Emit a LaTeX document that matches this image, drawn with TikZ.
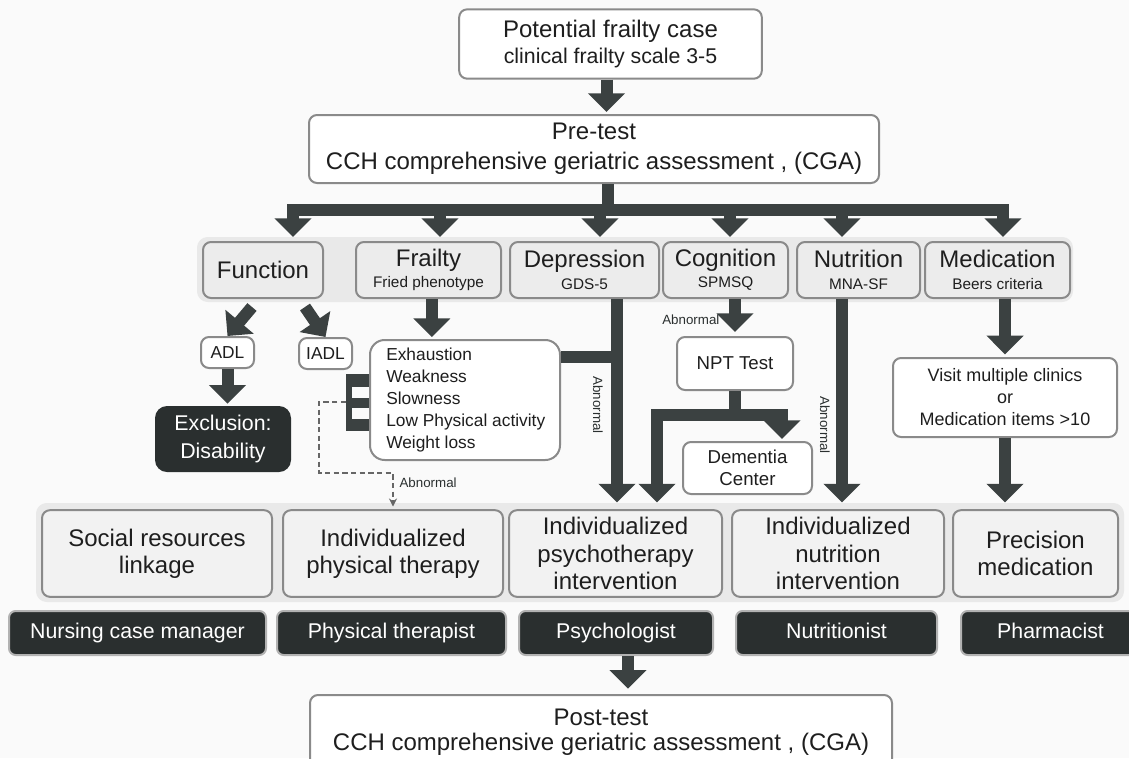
\documentclass[tikz,border=0pt]{standalone}
\usepackage{fontspec}
\setmainfont{Liberation Sans}
\usetikzlibrary{arrows.meta}
\definecolor{arrowc}{HTML}{3B4141}
\definecolor{darkc}{HTML}{2A2F2F}
\definecolor{edgec}{HTML}{8A8A8A}
\definecolor{bandc}{HTML}{E9E9E9}
\definecolor{catfill}{HTML}{ECECEC}
\definecolor{intfill}{HTML}{F2F2F2}
\definecolor{bgc}{HTML}{FAFAFA}
\definecolor{textc}{HTML}{1E1E1E}

\begin{document}
\begin{tikzpicture}[x=0.75pt,y=-0.75pt,
		every node/.style={text=textc},
		box/.style={draw=edgec, line width=1.5pt, rounded corners=6pt, align=center, inner sep=0pt},
		whitebox/.style={box, fill=white},
		catbox/.style={box, fill=catfill, minimum height=42pt, font=\fontsize{18}{16}\selectfont},
		intbox/.style={box, fill=intfill, minimum height=65pt, font=\fontsize{18}{20.5}\selectfont},
		rolebox/.style={draw=gray!60, line width=1.5pt, fill=darkc, text=white, rounded corners=5pt, minimum height=33pt, inner sep=0pt, text height=11.5pt, text depth=3pt, font=\fontsize{16}{18}\selectfont},
		band/.style={fill=bandc, rounded corners=8pt, inner sep=0pt},
		bigline/.style={draw=arrowc, line width=9pt},
		bigarrow/.style={bigline, -{Triangle[width=27pt,length=14pt]}},
		dashline/.style={draw=gray!80!black, line width=1pt, dash pattern=on 4pt off 2.5pt, -{Stealth[width=6pt,length=6pt]}},
		abn/.style={font=\fontsize{10}{12}\selectfont, text=darkc, inner sep=1pt}
	]
		\useasboundingbox (0,0) rectangle (1129,758);
		\clip (0,0) rectangle (1129,758);
		\fill[bgc] (0,0) rectangle (1129,758);

		% top part
		\node[whitebox, minimum width=227pt, minimum height=52pt, font=\fontsize{18}{19.5}\selectfont] (top) at (610.5,44) {Potential frailty case\\{\fontsize{16}{19.5}\selectfont clinical frailty scale 3-5}};
		\node[whitebox, minimum width=427.5pt, minimum height=51pt, font=\fontsize{18}{22.5}\selectfont] (pre) at (594,149) {Pre-test\\CCH comprehensive geriatric assessment , (CGA)};

		\draw[bigarrow, shorten >=1.5pt] ([xshift=-3pt]top.south) -- ([xshift=-3pt]top.south |- pre.north);

		% assessment domains
		\node[band, minimum width=657pt, minimum height=48.75pt] (band1) at (635,269.5) {};
		\node[catbox, minimum width=90pt] (fun) at (263,270) {Function};
		\node[catbox, minimum width=108.75pt] (fra) at (428.5,270) {Frailty\\{\fontsize{11.5}{13}\selectfont Fried phenotype}};
		\node[catbox, minimum width=111.75pt] (dep) at (584.5,270) {Depression\\{\fontsize{11.5}{13}\selectfont GDS-5}};
		\node[catbox, minimum width=93.75pt] (cog) at (725.5,270) {Cognition\\{\fontsize{11.5}{13}\selectfont SPMSQ}};
		\node[catbox, minimum width=92.25pt] (nut) at (858.5,270) {Nutrition\\{\fontsize{11.5}{13}\selectfont MNA-SF}};
		\node[catbox, minimum width=108.75pt] (med) at (997.5,270) {Medication\\{\fontsize{11.5}{13}\selectfont Beers criteria}};

		\coordinate (br) at (608,210);
		\draw[bigline] (pre.south -| br) -- (br);
		\foreach \t/\dx in {fun/22.5pt, fra/8.6pt, dep/11.6pt, cog/3.4pt, nut/-12.4pt, med/4.1pt}
			\draw[bigarrow, shorten >=3pt] (br) -| ([xshift=\dx]\t.north);

		% function
		\node[whitebox, minimum width=39.75pt, minimum height=23.25pt, font=\fontsize{13}{15}\selectfont] (adl) at (227.5,352.5) {ADL};
		\node[whitebox, minimum width=39.75pt, minimum height=23.25pt, font=\fontsize{13}{15}\selectfont] (iadl) at (325.5,353.5) {IADL};
		\node[fill=darkc, text=white, rounded corners=9pt, minimum width=102pt, minimum height=49.5pt, align=center, inner sep=0pt, font=\fontsize{16}{21}\selectfont] (exc) at (223,439) {Exclusion:\\Disability};

		\draw[bigarrow] ([shift={(-11,8)}]fun.south) -- (adl.north);
		\draw[bigarrow] ([shift={(42,8)}]fun.south) -- (iadl.north);
		\draw[bigarrow, shorten >=1.5pt] (adl.south) -- (adl.south |- exc.north);

		% frailty
		\node[whitebox, rounded corners=11pt, minimum width=142.5pt, minimum height=90pt] (lst) at (465,400) {};
		\node[anchor=west, align=left, inner sep=0pt, font=\fontsize{13}{16.5}\selectfont] (lsttxt) at (386,400) {Exhaustion\\Weakness\\Slowness\\Low Physical activity\\Weight loss};
		\draw[bigarrow, shorten >=1.5pt] ([xshift=2.5pt]fra.south) -- ([xshift=2.5pt]fra.south |- lst.north);

		\fill[arrowc] (346,374) rectangle (352,431);
		\foreach \ya/\yb in {374/387, 398/408, 419/431}
			\fill[arrowc] (346,\ya) rectangle (lst.west |- 0,\yb);

		% interventions
		\node[band, minimum width=816pt, minimum height=74.25pt] (band2) at (580,552.5) {};
		\node[intbox, minimum width=172.5pt] (soc) at (157,553.5) {Social resources\\linkage};
		\node[intbox, minimum width=165pt] (phy) at (393,553.5) {Individualized\\physical therapy};
		\node[intbox, minimum width=159.75pt] (psy) at (615.5,553.5) {Individualized\\psychotherapy\\intervention};
		\node[intbox, minimum width=159pt] (nti) at (838,553.5) {Individualized\\nutrition\\intervention};
		\node[intbox, minimum width=123.75pt] (prc) at (1035.5,553.5) {Precision\\medication};

		\coordinate (ebr) at (346,402);
		\draw[dashline, shorten >=2pt] (ebr) -| (319,473) -| (phy.north);
		\node[abn, anchor=west] (abn1) at (398,483) {Abnormal};

		% depression
		\coordinate (dj) at (617,357);
		\draw[bigline] (lst.east |- dj) -- (dj);
		\draw[bigarrow, shorten >=5pt] (dep.south -| dj) -- (psy.north -| dj);
		\node[abn, rotate=-90] (abn2) at (598,405) {Abnormal};

		% cognition
		\node[whitebox, minimum width=87pt, minimum height=39.75pt, font=\fontsize{14}{16.5}\selectfont] (npt) at (735,363.5) {NPT Test};
		\node[whitebox, minimum width=96.75pt, minimum height=39pt, font=\fontsize{14}{16.5}\selectfont] (dem) at (747.5,468) {Dementia\\Center};
		\draw[bigarrow, shorten >=3pt] (npt.north |- cog.south) -- (npt.north);
		\node[abn, anchor=east] (abn3) at (721,320) {Abnormal};

		\coordinate (nj) at (735,415);
		\coordinate (nl) at (657,415);
		\coordinate (nr) at (782,415);
		\draw[bigline] (npt.south) -- (nj);
		\draw[bigarrow, shorten >=1.5pt] (nj) -| (dem.north -| nr);
		\draw[bigarrow, shorten >=5pt] (nj) -| (psy.north -| nl);

		% nutrition
		\draw[bigarrow, shorten >=5pt] ([xshift=3pt]nti.north |- nut.south) -- ([xshift=3pt]nti.north);
		\node[abn, rotate=-90] (abn4) at (825,425) {Abnormal};

		% medication
		\node[whitebox, minimum width=168pt, minimum height=59.25pt, font=\fontsize{13.5}{16.5}\selectfont] (vis) at (1005,397.5) {Visit multiple clinics\\or\\Medication items \textgreater10};
		\draw[bigarrow, shorten >=2pt] (vis.north |- med.south) -- (vis.north);
		\draw[bigarrow, shorten >=5pt] (vis.south) -- (vis.south |- prc.north);

		% staff
		\node[rolebox, minimum width=192.75pt] (nur) at (137.5,633) {Nursing case manager};
		\node[rolebox, minimum width=171.75pt] (pth) at (391.5,633) {Physical therapist};
		\node[rolebox, minimum width=145.5pt] (psl) at (616,633) {Psychologist};
		\node[rolebox, minimum width=150.75pt] (ntr) at (836.5,633) {Nutritionist};
		\node[rolebox, minimum width=134.25pt] (phm) at (1050.5,633) {Pharmacist};

		% post test
		\node[whitebox, minimum width=436.5pt, minimum height=56.25pt, font=\fontsize{18}{19}\selectfont] (post) at (601,732.5) {Post-test\\CCH comprehensive geriatric assessment , (CGA)};
		\draw[bigarrow, shorten >=4pt] ([xshift=9pt]psl.south) -- ([xshift=9pt]psl.south |- post.north);
	\end{tikzpicture}
\end{document}
